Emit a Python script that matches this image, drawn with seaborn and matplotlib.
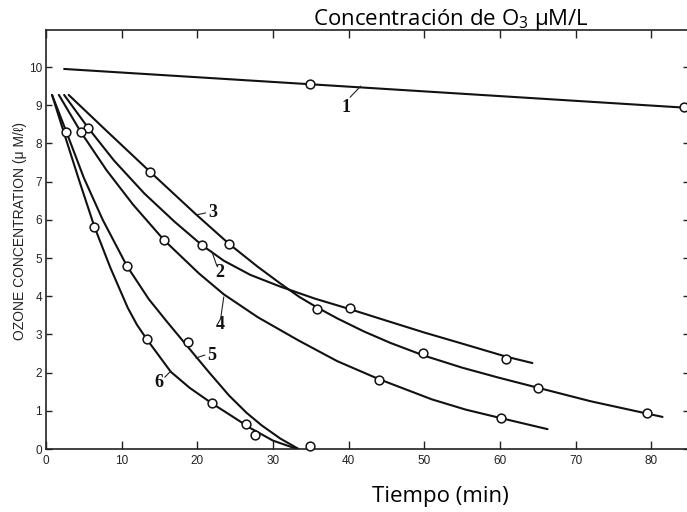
import matplotlib
matplotlib.use("Agg")
import matplotlib.pyplot as plt
import seaborn as sns
import pandas as pd

# ---------------- data ----------------
# curve vertices (time in min, ozone concentration in uM/L)
c1_x = [2.4, 34.9, 85.0]
c1_y = [9.95, 9.55, 8.93]

c2_x = [2.4, 5.6, 9.0, 13.0, 17.0, 20.6, 23.5, 27.0, 31.0, 35.5, 40.2, 45.0, 50.0, 55.0, 60.8, 64.3]
c2_y = [9.27, 8.4, 7.55, 6.69, 5.95, 5.34, 4.93, 4.56, 4.25, 3.94, 3.66, 3.36, 3.05, 2.76, 2.42, 2.25]

c3_x = [3.0, 8.0, 13.8, 19.9, 24.2, 28.0, 31.0, 33.5, 35.8, 38.5, 42.0, 45.5, 49.9, 55.0, 59.8, 65.1, 72.0, 79.4, 81.5]
c3_y = [9.27, 8.33, 7.25, 6.13, 5.37, 4.77, 4.33, 3.98, 3.71, 3.42, 3.08, 2.78, 2.45, 2.13, 1.87, 1.6, 1.25, 0.93, 0.84]

c4_x = [1.7, 4.6, 8.0, 11.5, 15.6, 20.2, 23.5, 28.0, 33.4, 38.5, 44.0, 51.0, 55.5, 60.1, 66.3]
c4_y = [9.27, 8.3, 7.3, 6.4, 5.47, 4.6, 4.05, 3.45, 2.84, 2.3, 1.83, 1.3, 1.03, 0.81, 0.52]

c5_x = [0.8, 2.7, 5.0, 7.5, 10.7, 13.6, 16.0, 18.6, 21.5, 24.2, 26.5, 28.5, 31.0, 33.4]
c5_y = [9.27, 8.3, 7.1, 6.0, 4.79, 3.92, 3.33, 2.71, 2.02, 1.4, 0.95, 0.62, 0.27, 0.0]

c6_x = [0.8, 2.5, 4.5, 6.4, 8.5, 10.8, 12.0, 13.3, 16.5, 19.0, 21.9, 24.5, 27.0, 30.0, 33.2]
c6_y = [9.27, 8.2, 6.96, 5.82, 4.75, 3.7, 3.26, 2.88, 2.02, 1.6, 1.2, 0.87, 0.55, 0.22, 0.0]

# measured points (open circles)
pts_x = [34.9, 84.3,
         5.6, 20.6, 40.2, 60.8,
         13.8, 24.2, 35.8, 49.9, 65.1, 79.4,
         4.6, 15.6, 44.0, 60.1,
         2.7, 10.7, 18.8,
         6.4, 13.3, 21.9, 26.4, 27.6, 34.9]
pts_y = [9.55, 8.95,
         8.4, 5.34, 3.69, 2.36,
         7.25, 5.37, 3.66, 2.51, 1.6, 0.94,
         8.3, 5.47, 1.81, 0.81,
         8.3, 4.79, 2.8,
         5.8, 2.88, 1.2, 0.65, 0.37, 0.08]

# curve labels: text, label position, leader start, leader end
curve_labels = ["1", "2", "3", "4", "5", "6"]
label_x = [39.6, 23.0, 22.0, 23.0, 21.9, 14.9]
label_y = [8.95, 4.63, 6.2, 3.25, 2.46, 1.73]
lead_x0 = [40.2, 21.9, 19.9, 23.5, 19.8, 15.7]
lead_y0 = [9.21, 5.18, 6.13, 3.98, 2.38, 1.88]
lead_x1 = [41.6, 22.6, 21.1, 23.1, 21.0, 16.5]
lead_y1 = [9.5, 4.79, 6.18, 3.43, 2.46, 2.04]

x_ticks = [0, 10, 20, 30, 40, 50, 60, 70, 80]
y_ticks = [0, 1, 2, 3, 4, 5, 6, 7, 8, 9, 10]

title_text = "Concentración de O$_\\mathregular{3}$ μM/L"
xlabel_text = "Tiempo (min)"
ylabel_text = "OZONE CONCENTRATION (μ M/ℓ)"

# ---------------- drawing ----------------
sns.set_theme(style="white")
plt.rcParams["font.family"] = ["Open Sans", "DejaVu Sans"]
plt.rcParams["mathtext.fontset"] = "custom"
plt.rcParams["mathtext.rm"] = "Open Sans"

fig = plt.figure(figsize=(6.87, 5.12), dpi=100)
ax = fig.add_axes([46 / 687, 1 - 449 / 512, (689 - 46) / 687, (449 - 30) / 512])

curves = [(c1_x, c1_y), (c2_x, c2_y), (c3_x, c3_y), (c4_x, c4_y), (c5_x, c5_y), (c6_x, c6_y)]
for i, (cx, cy) in enumerate(curves):
    df = pd.DataFrame({"t": cx, "c": cy})
    sns.lineplot(data=df, x="t", y="c", ax=ax, color="#111111", linewidth=1.5,
                 sort=False, estimator=None)

pts = pd.DataFrame({"t": pts_x, "c": pts_y})
sns.scatterplot(data=pts, x="t", y="c", ax=ax, s=40, facecolor="white",
                edgecolor="#111111", linewidth=1.1, zorder=5, clip_on=False)

for lab, lx, ly, x0, y0, x1, y1 in zip(curve_labels, label_x, label_y,
                                       lead_x0, lead_y0, lead_x1, lead_y1):
    ax.plot([x0, x1], [y0, y1], color="#222222", linewidth=0.8)
    ax.text(lx, ly, lab, ha="center", va="center", fontsize=13,
            fontweight="bold", family=["Liberation Serif", "DejaVu Serif"],
            color="#111111")

ax.set_xlim(0, 85)
ax.set_ylim(0, 10.97)
ax.set_xticks(x_ticks)
ax.set_xticklabels([str(v) for v in x_ticks], fontsize=8.5,
                   family=["Liberation Sans", "DejaVu Sans"], color="#222222")
ax.set_yticks(y_ticks)
ax.set_yticklabels([str(v) for v in y_ticks], fontsize=8.5,
                   family=["Liberation Sans", "DejaVu Sans"], color="#222222")
ax.set_xlabel("")
ax.set_ylabel("")
ax.tick_params(axis="x", direction="in", length=6, width=1.0, pad=4,
               top=True, bottom=True, colors="#222222")
ax.tick_params(axis="y", direction="in", length=4, width=1.0, pad=3,
               left=True, right=True, colors="#222222")
ax.tick_params(axis="x", which="major", labeltop=False)
for sp in ax.spines.values():
    sp.set_color("#222222")
    sp.set_linewidth(1.2)

fig.text(451 / 687, 1 - 25 / 512, title_text, ha="center", va="baseline",
         fontsize=16, color="black")
fig.text(440 / 687, 1 - 502 / 512, xlabel_text, ha="center", va="baseline",
         fontsize=16, color="black")
fig.text(20 / 687, 1 - 231 / 512, ylabel_text, ha="center", va="center",
         rotation=90, fontsize=10, family=["Liberation Sans", "DejaVu Sans"],
         color="#222222")

fig.savefig("out.png", dpi=100)
